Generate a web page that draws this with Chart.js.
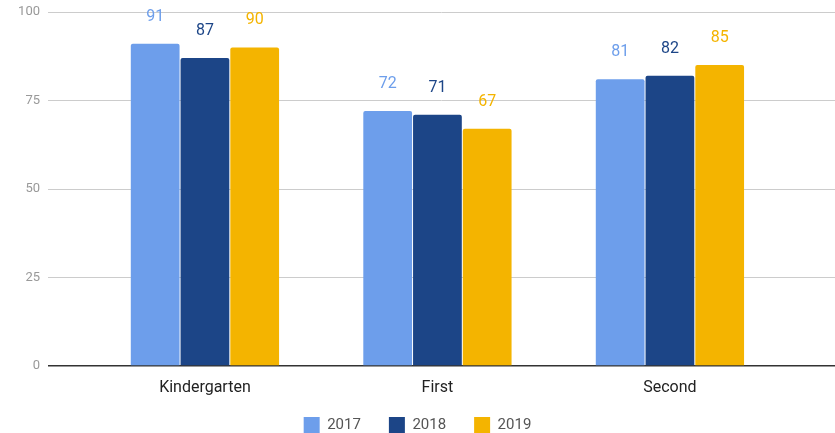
<!DOCTYPE html>
<html>
<head>
<meta charset="utf-8">
<script src="https://cdn.jsdelivr.net/npm/chart.js@4/dist/chart.umd.min.js"></script>
<style>
	html, body { margin: 0; padding: 0; background: #fff; }
	#wrap { width: 835px; height: 433px; }
</style>
</head>
<body>
<div id="wrap"><canvas id="chart" width="835" height="433"></canvas></div>
<script>
const categories = ['Kindergarten', 'First', 'Second']
const years = ['2017', '2018', '2019']
const values2017 = [91, 72, 81]
const values2018 = [87, 71, 82]
const values2019 = [90, 67, 85]
const yTicks = [0, 25, 50, 75, 100]
const colors = ['#6d9eeb', '#1c4587', '#f4b400']

const series = [values2017, values2018, values2019]

// value labels above each bar, in the bar's colour
const barLabels = {
	id: 'barLabels',
	afterDatasetsDraw(chart) {
		const ctx = chart.ctx
		ctx.save()
		ctx.font = '16px Roboto'
		ctx.textAlign = 'center'
		ctx.textBaseline = 'middle'
		chart.data.datasets.forEach((ds, i) => {
			const meta = chart.getDatasetMeta(i)
			ctx.fillStyle = ds.backgroundColor
			meta.data.forEach((bar, j) => {
				ctx.fillText(String(ds.data[j].y), bar.x, bar.y - 27)
			})
		})
		ctx.restore()
	}
}

// keep the legend short so the plot reaches down further
const legendHeight = {
	id: 'legendHeight',
	beforeLayout(chart) {
		const legend = chart.legend
		if (!legend || legend._patched) return
		const fit = legend.fit
		legend.fit = function() {
			fit.call(this)
			this.height = 44
		}
		legend._patched = true
	},
	afterLayout(chart) {
		// let the category labels draw past the squeezed x axis box
		chart.scales.x.bottom = chart.height
	}
}

new Chart(document.getElementById('chart'), {
	type: 'bar',
	data: {
		datasets: years.map((year, i) => ({
			label: year,
			data: series[i].map((v, j) => ({ x: j, y: v })),
			backgroundColor: colors[i],
			borderWidth: 0,
			borderRadius: { topLeft: 2, topRight: 2 },
			borderSkipped: 'bottom',
			categoryPercentage: 0.642,
			barPercentage: 0.98
		}))
	},
	options: {
		responsive: false,
		animation: false,
		layout: { padding: { top: 12, right: 0, left: 0, bottom: 0 } },
		plugins: {
			tooltip: { enabled: false },
			legend: {
				position: 'bottom',
				labels: {
					boxWidth: 16,
					boxHeight: 16,
					padding: 28,
					color: '#555',
					font: { family: 'Roboto', size: 15 }
				}
			}
		},
		scales: {
			x: {
				type: 'linear',
				offset: false,
				min: -0.675,
				max: 2.71,
				afterBuildTicks: scale => {
					scale.ticks = categories.map((c, i) => ({ value: i }))
				},
				afterFit: scale => { scale.height = 23 },
				ticks: {
					color: '#222',
					font: { family: 'Roboto', size: 16 },
					padding: 4,
					autoSkip: false,
					maxRotation: 0,
					callback: v => categories[v]
				},
				grid: { display: false },
				border: { display: false }
			},
			y: {
				min: 0,
				max: 100,
				afterBuildTicks: scale => {
					scale.ticks = yTicks.map(v => ({ value: v }))
				},
				afterFit: scale => {
					scale.width = 48
					scale.paddingTop = 0
					scale.paddingBottom = 0
				},
				ticks: {
					color: '#999',
					font: { family: 'Roboto', size: 13 },
					padding: 8
				},
				grid: {
					color: c => c.tick && c.tick.value === 0 ? '#333' : '#ccc',
					lineWidth: c => c.tick && c.tick.value === 0 ? 1.5 : 1,
					drawTicks: false
				},
				border: { display: false }
			}
		}
	},
	plugins: [barLabels, legendHeight]
})
</script>
</body>
</html>
